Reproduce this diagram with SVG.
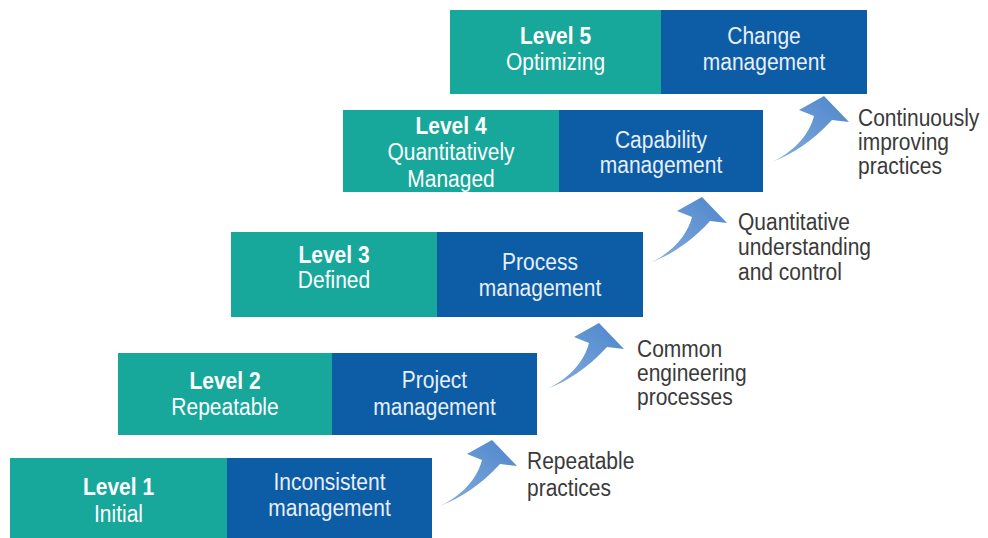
<svg xmlns="http://www.w3.org/2000/svg" width="988" height="538" viewBox="0 0 988 538">
<defs>
<linearGradient id="ag" x1="0" y1="1" x2="1" y2="0">
<stop offset="0" stop-color="#86AEDD"/>
<stop offset="1" stop-color="#4C85CB"/>
</linearGradient>
<path id="arrow" d="M0,0 C20,-8 40,-20 60,-42 L77,-40 L52,-66 L27,-52 L42,-46 C38,-30 25,-12 0,0 Z" fill="url(#ag)"/>
</defs>
<style>
.teal{fill:#17A79B}
.blue{fill:#0D5CA6}
text{font-family:"Liberation Sans",Arial,sans-serif;font-size:21px}
.t{fill:#FFFFFF;text-anchor:middle}
.b{fill:#E8EFF8;text-anchor:middle}
.bold{font-weight:bold}
.lbl{fill:#3A3A3A}
</style>
<rect width="988" height="538" fill="#FFFFFF"/>
<g id="level1">
<rect class="teal" x="10" y="458" width="217" height="80"/>
<rect class="blue" x="227" y="458" width="205" height="80"/>
<text class="t bold" transform="translate(118.5 495) scale(1 1.15)">Level 1</text>
<text class="t" transform="translate(118.5 522) scale(1 1.15)">Initial</text>
<text class="b" transform="translate(329.5 490) scale(1 1.15)">Inconsistent</text>
<text class="b" transform="translate(329.5 516) scale(1 1.15)">management</text>
</g>
<g id="level2">
<rect class="teal" x="118" y="353" width="214" height="82"/>
<rect class="blue" x="332" y="353" width="205" height="82"/>
<text class="t bold" transform="translate(225 389) scale(1 1.15)">Level 2</text>
<text class="t" transform="translate(225 415) scale(1 1.15)">Repeatable</text>
<text class="b" transform="translate(434.5 388) scale(1 1.15)">Project</text>
<text class="b" transform="translate(434.5 415) scale(1 1.15)">management</text>
</g>
<g id="level3">
<rect class="teal" x="231" y="232" width="206" height="85"/>
<rect class="blue" x="437" y="232" width="206" height="85"/>
<text class="t bold" transform="translate(334 263) scale(1 1.15)">Level 3</text>
<text class="t" transform="translate(334 288) scale(1 1.15)">Defined</text>
<text class="b" transform="translate(540 270) scale(1 1.15)">Process</text>
<text class="b" transform="translate(540 296) scale(1 1.15)">management</text>
</g>
<g id="level4">
<rect class="teal" x="343" y="110" width="216" height="82"/>
<rect class="blue" x="559" y="110" width="204" height="82"/>
<text class="t bold" transform="translate(451 134) scale(1 1.15)">Level 4</text>
<text class="t" transform="translate(451 160) scale(1 1.15)">Quantitatively</text>
<text class="t" transform="translate(451 187) scale(1 1.15)">Managed</text>
<text class="b" transform="translate(661 148) scale(1 1.15)">Capability</text>
<text class="b" transform="translate(661 173) scale(1 1.15)">management</text>
</g>
<g id="level5">
<rect class="teal" x="450" y="10" width="211" height="84"/>
<rect class="blue" x="661" y="10" width="206" height="84"/>
<text class="t bold" transform="translate(555.5 44) scale(1 1.15)">Level 5</text>
<text class="t" transform="translate(555.5 70) scale(1 1.15)">Optimizing</text>
<text class="b" transform="translate(764 44) scale(1 1.15)">Change</text>
<text class="b" transform="translate(764 70) scale(1 1.15)">management</text>
</g>
<g id="connectors">
<use href="#arrow" transform="translate(440 506)"/>
<use href="#arrow" transform="translate(547 389)"/>
<use href="#arrow" transform="translate(650 263)"/>
<use href="#arrow" transform="translate(772 162)"/>
</g>
<g id="labels">
<text class="lbl" transform="translate(527 469) scale(1 1.1)">Repeatable</text>
<text class="lbl" transform="translate(527 496) scale(1 1.1)">practices</text>
<text class="lbl" transform="translate(637 357) scale(1 1.1)">Common</text>
<text class="lbl" transform="translate(637 381) scale(1 1.1)">engineering</text>
<text class="lbl" transform="translate(637 405) scale(1 1.1)">processes</text>
<text class="lbl" transform="translate(738 230) scale(1 1.1)">Quantitative</text>
<text class="lbl" transform="translate(738 255) scale(1 1.1)">understanding</text>
<text class="lbl" transform="translate(738 280) scale(1 1.1)">and control</text>
<text class="lbl" transform="translate(858 126) scale(1 1.1)">Continuously</text>
<text class="lbl" transform="translate(858 150) scale(1 1.1)">improving</text>
<text class="lbl" transform="translate(858 174) scale(1 1.1)">practices</text>
</g>
</svg>
